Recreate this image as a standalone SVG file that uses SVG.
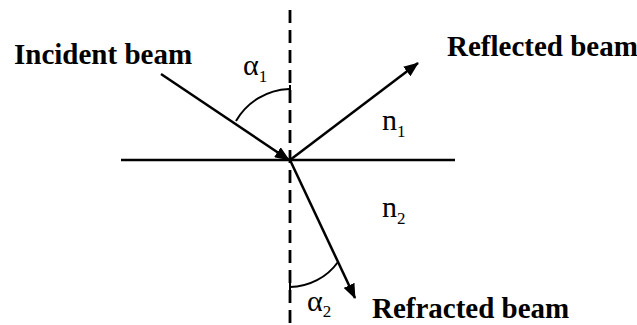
<svg xmlns="http://www.w3.org/2000/svg" width="637" height="325" viewBox="0 0 637 325">
  <style>
    .ln { stroke: #000; stroke-width: 2.5; fill: none; }
    .dash { stroke: #000; stroke-width: 2.8; fill: none; stroke-dasharray: 13 7; }
    .arc { stroke: #000; stroke-width: 2; fill: none; }
    text { font-family: 'Liberation Serif', 'Times New Roman', serif; fill: #000; }
    .lbl { font-weight: bold; font-size: 29px; }
    .sym { font-size: 30px; }
    .sub { font-size: 17px; }
  </style>
  <defs>
    <marker id="arrow" markerUnits="userSpaceOnUse" markerWidth="16" markerHeight="12" refX="14" refY="6" orient="auto">
      <path d="M0,0 L15,6 L0,12 Z" fill="#000"/>
    </marker>
  </defs>
  <rect width="637" height="325" fill="#fff"/>

  <g id="normal">
    <line class="dash" x1="290" y1="10" x2="290" y2="325"/>
  </g>
  <g id="interface">
    <line class="ln" x1="121" y1="160" x2="455" y2="160"/>
  </g>

  <g id="connectors">
    <line id="incident" class="ln" x1="161" y1="74" x2="289" y2="160" marker-end="url(#arrow)"/>
    <line id="reflected" class="ln" x1="290" y1="160" x2="418" y2="63" marker-end="url(#arrow)"/>
    <line id="refracted" class="ln" x1="290" y1="160" x2="355" y2="298" marker-end="url(#arrow)"/>
  </g>

  <g id="angle1">
    <path class="arc" d="M236,121 A 64 64 0 0 1 289 89"/>
    <line class="arc" x1="290" y1="85" x2="290" y2="91"/>
    <text class="sym" x="243" y="75">α<tspan class="sub" dy="7">1</tspan></text>
  </g>
  <g id="angle2">
    <path class="arc" d="M290,287 A 60 60 0 0 0 338 262"/>
    <line class="arc" x1="290" y1="281" x2="290" y2="292"/>
    <text class="sym" x="307" y="311">α<tspan class="sub" dy="6">2</tspan></text>
  </g>

  <g id="n1">
    <text class="sym" x="382" y="130">n<tspan class="sub" dy="7">1</tspan></text>
  </g>
  <g id="n2">
    <text class="sym" x="382" y="217">n<tspan class="sub" dy="7">2</tspan></text>
  </g>

  <g id="incident-label">
    <text class="lbl" x="14" y="64">Incident beam</text>
  </g>
  <g id="reflected-label">
    <text class="lbl" x="447" y="56">Reflected beam</text>
  </g>
  <g id="refracted-label">
    <text class="lbl" x="372" y="318">Refracted beam</text>
  </g>
</svg>
